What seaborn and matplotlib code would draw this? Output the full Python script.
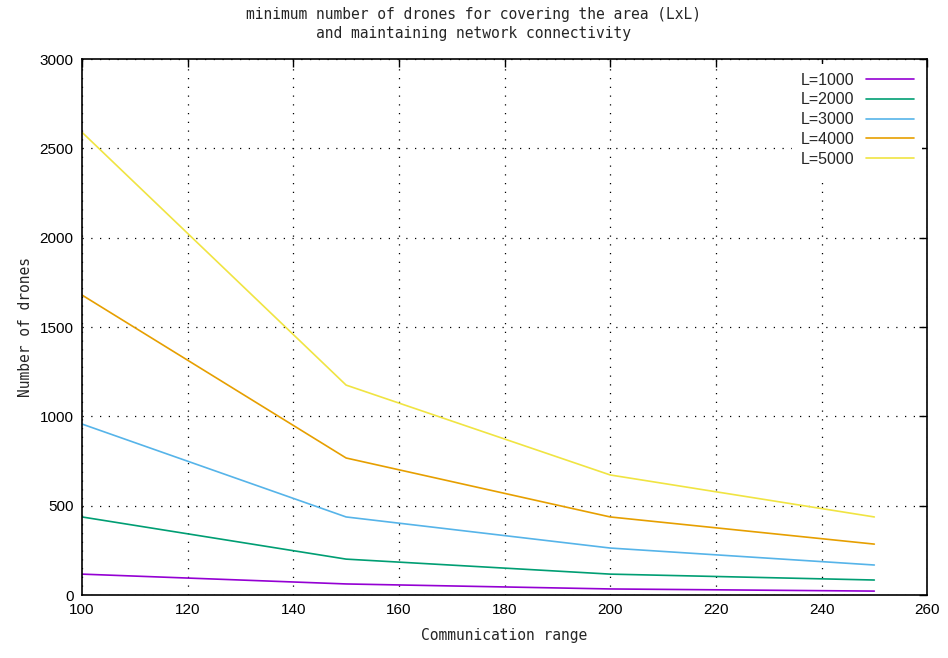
import matplotlib
matplotlib.use("Agg")
import matplotlib.pyplot as plt
import seaborn as sns
import pandas as pd

comm_range = [100, 150, 200, 250]
l1000 = [117, 62, 34, 22]
l2000 = [437, 201, 117, 84]
l3000 = [957, 437, 263, 168]
l4000 = [1679, 767, 437, 285]
l5000 = [2590, 1175, 672, 437]
series_names = ["L=1000", "L=2000", "L=3000", "L=4000", "L=5000"]
colors = ["#9400d3", "#009e73", "#56b4e9", "#e69f00", "#f0e442"]
xticks = [100, 120, 140, 160, 180, 200, 220, 240, 260]
yticks = [0, 500, 1000, 1500, 2000, 2500, 3000]

rows = []
for name, vals in zip(series_names, [l1000, l2000, l3000, l4000, l5000]):
    for x, y in zip(comm_range, vals):
        rows.append({"range": x, "drones": y, "series": name})
df = pd.DataFrame(rows)

sns.set_style("white")
plt.rcParams["font.family"] = ["DejaVu Sans"]

fig = plt.figure(figsize=(9.48, 6.58), dpi=100)
ax = fig.add_axes([0.0865, 0.0957, 0.8915, 0.8146])
sns.lineplot(data=df, x="range", y="drones", hue="series", hue_order=series_names,
             palette=colors, linewidth=1.2, ax=ax, legend=True)

ax.set_xlim(100, 260)
ax.set_ylim(0, 3000)
ax.set_xticks(xticks)
ax.set_yticks(yticks)
ax.tick_params(direction="in", length=6, width=1, top=True, right=True,
               labelsize=11, colors="black", pad=6)
ax.set_xticklabels([str(t) for t in xticks], family="Liberation Sans")
ax.set_yticklabels([str(t) for t in yticks], family="Liberation Sans")
for s in ax.spines.values():
    s.set_visible(True)
    s.set_color("black")
    s.set_linewidth(1.2)
ax.grid(True, color="black", linestyle=(0, (1, 6)), linewidth=0.9)

ax.set_xlabel("Communication range", family="DejaVu Sans Mono", fontsize=10.5, labelpad=8)
ax.set_ylabel("Number of drones", family="DejaVu Sans Mono", fontsize=10.5, labelpad=5)
fig.suptitle("minimum number of drones for covering the area (LxL)\nand maintaining network connectivity",
             family="DejaVu Sans Mono", fontsize=10.5, y=0.99, linespacing=1.35)

leg = ax.legend(loc="upper right", frameon=True, markerfirst=False,
                handlelength=3.0, handletextpad=0.7, labelspacing=0.3,
                borderaxespad=0.3, borderpad=0.55, fancybox=False,
                prop={"family": "Liberation Sans", "size": 11.5})
leg.get_frame().set_facecolor("white")
leg.get_frame().set_edgecolor("none")
leg.get_frame().set_alpha(1.0)
for t in leg.get_texts():
    t.set_ha("right")

fig.savefig("out.png", dpi=100)
